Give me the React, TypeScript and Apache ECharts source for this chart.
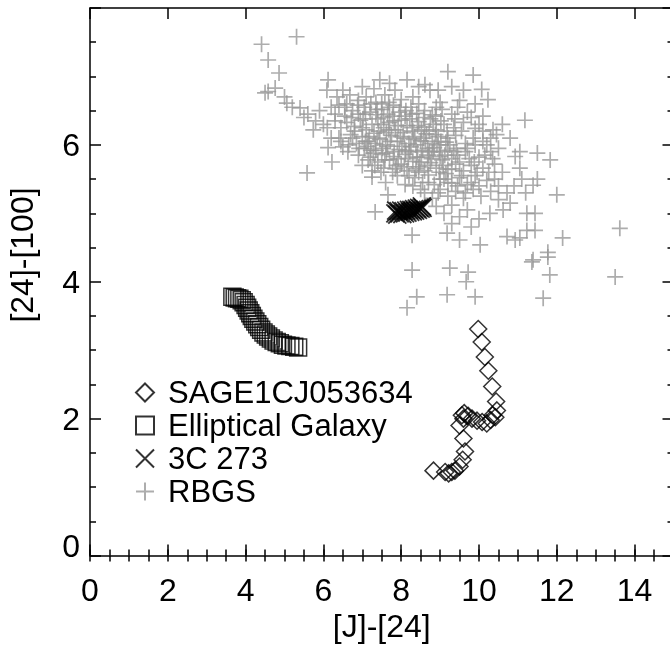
import React, { useEffect, useRef } from "react";
import * as echarts from "echarts";

const FONT = "'Liberation Sans', Arial, Helvetica, sans-serif";

const xTicks = [0, 2, 4, 6, 8, 10, 12, 14];
const yTicks = [0, 2, 4, 6];

const seriesNames = ["SAGE1CJ053634", "Elliptical Galaxy", "3C 273", "RBGS"];

const sageData: number[][] = [
  [8.83, 1.24], [9.13, 1.22], [9.22, 1.2], [9.3, 1.22], [9.38, 1.24], [9.5, 1.3],
  [9.58, 1.4], [9.64, 1.52], [9.6, 1.71], [9.5, 1.9], [9.56, 2.05], [9.62, 2.08],
  [9.6, 2.0], [9.72, 2.04], [9.82, 2.0], [9.95, 1.97], [10.08, 1.95], [10.2, 1.93],
  [10.3, 1.98], [10.35, 2.05], [10.42, 2.02], [10.46, 2.12], [10.44, 2.25],
  [10.34, 2.47], [10.24, 2.7], [10.15, 2.9], [10.07, 3.12], [9.98, 3.31],
];

const ellipticalData: number[][] = [
  [3.66, 3.78], [3.72, 3.77], [3.78, 3.76], [3.84, 3.75], [3.9, 3.73], [3.95, 3.7],
  [4.0, 3.66], [4.04, 3.62], [4.08, 3.58], [4.12, 3.54], [4.16, 3.5], [4.2, 3.46],
  [4.25, 3.42], [4.3, 3.38], [4.35, 3.34], [4.4, 3.3], [4.46, 3.26], [4.52, 3.23],
  [4.58, 3.2], [4.65, 3.17], [4.72, 3.14], [4.8, 3.12], [4.88, 3.1], [4.96, 3.08],
  [5.05, 3.07], [5.15, 3.06], [5.25, 3.05], [5.35, 3.04],
];

const quasarData: number[][] = [
  [7.85, 5.0], [7.87, 5.04], [7.9, 4.98], [7.93, 5.03], [7.96, 5.0], [8.0, 5.04],
  [8.03, 4.99], [8.06, 5.03], [8.1, 5.0], [8.13, 5.04], [8.16, 5.01], [8.2, 5.05],
  [8.23, 5.02], [8.26, 5.05], [8.3, 5.03], [8.33, 5.06], [8.36, 5.04], [8.4, 5.07],
  [8.43, 5.05], [8.46, 5.08], [8.5, 5.07], [8.53, 5.1], [8.55, 5.08],
];

const rbgsData: number[][] = [
  // upper-left outliers
  [4.41, 7.47], [5.31, 7.58], [4.58, 7.24], [4.86, 7.05], [4.5, 6.76], [5.0, 6.7],
  [5.2, 6.55], [5.5, 6.4], [5.8, 6.35], [4.58, 6.78], [4.76, 6.83], [5.06, 6.61],
  [5.4, 6.54], [5.6, 6.45], [5.74, 6.22], [5.58, 5.59],
  // top band
  [6.12, 6.95], [7.45, 6.95], [8.15, 6.95], [9.2, 7.07], [8.61, 6.88], [10.07, 6.81],
  [9.85, 7.02], [6.09, 6.8], [6.68, 6.73], [7.58, 6.73], [7.84, 6.8], [8.74, 6.8],
  [10.23, 6.66], [6.9, 6.65], [7.1, 6.7], [7.35, 6.62], [8.0, 6.66], [8.3, 6.7],
  [9.0, 6.62], [9.5, 6.65],
  // 6.4 - 6.6
  [5.9, 6.5], [6.2, 6.55], [6.4, 6.58], [6.55, 6.42], [6.75, 6.5], [6.9, 6.45],
  [7.05, 6.55], [7.2, 6.48], [7.35, 6.44], [7.5, 6.52], [7.65, 6.45], [7.8, 6.58],
  [7.95, 6.48], [8.1, 6.42], [8.25, 6.55], [8.4, 6.46], [8.6, 6.5], [8.8, 6.44],
  [9.05, 6.52], [9.3, 6.45], [9.7, 6.48], [10.1, 6.42],
  // 6.2 - 6.4
  [6.0, 6.3], [6.3, 6.35], [6.45, 6.25], [6.6, 6.33], [6.8, 6.27], [6.95, 6.36],
  [7.1, 6.22], [7.25, 6.3], [7.4, 6.38], [7.55, 6.25], [7.7, 6.33], [7.85, 6.22],
  [8.0, 6.36], [8.15, 6.28], [8.3, 6.2], [8.45, 6.34], [8.6, 6.26], [8.75, 6.38],
  [8.9, 6.22], [9.1, 6.3], [9.35, 6.25], [9.6, 6.33], [9.9, 6.24], [10.36, 6.22],
  [11.18, 6.36],
  // 6.0 - 6.2
  [6.12, 5.96], [6.2, 6.1], [6.45, 6.05], [6.7, 6.15], [6.85, 6.02], [7.0, 6.12],
  [7.15, 6.05], [7.3, 6.17], [7.45, 6.08], [7.6, 6.0], [7.75, 6.14], [7.9, 6.05],
  [8.05, 6.18], [8.2, 6.02], [8.35, 6.12], [8.5, 6.06], [8.65, 6.16], [8.8, 6.02],
  [8.95, 6.12], [9.15, 6.04], [9.4, 6.14], [9.65, 6.02], [9.85, 6.1], [10.1, 6.05],
  [10.8, 6.1],
  // 5.8 - 6.0
  [6.5, 5.97], [6.63, 5.9], [6.9, 5.85], [7.05, 5.95], [7.2, 5.82], [7.35, 5.92],
  [7.5, 5.86], [7.65, 5.98], [7.8, 5.83], [7.95, 5.93], [8.1, 5.86], [8.25, 5.97],
  [8.4, 5.82], [8.55, 5.92], [8.7, 5.85], [8.85, 5.96], [9.0, 5.83], [9.2, 5.92],
  [9.45, 5.85], [9.7, 5.95], [10.0, 5.82], [10.3, 5.9], [10.93, 5.83], [11.05, 5.9],
  [11.5, 5.88], [11.83, 5.78],
  // 5.6 - 5.8
  [6.22, 5.75], [7.0, 5.7], [7.25, 5.62], [7.4, 5.75], [7.55, 5.66], [7.7, 5.78],
  [7.85, 5.65], [8.0, 5.72], [8.15, 5.62], [8.3, 5.76], [8.45, 5.68], [8.6, 5.62],
  [8.75, 5.74], [8.9, 5.66], [9.05, 5.78], [9.2, 5.64], [9.4, 5.72], [9.6, 5.62],
  [9.8, 5.7], [10.1, 5.66], [10.4, 5.72], [11.05, 5.66],
  // 5.4 - 5.6
  [7.25, 5.53], [7.6, 5.45], [7.9, 5.55], [8.1, 5.42], [8.35, 5.52], [8.55, 5.45],
  [8.7, 5.56], [8.85, 5.42], [9.0, 5.5], [9.15, 5.58], [9.3, 5.44], [9.5, 5.52],
  [9.7, 5.42], [9.9, 5.55], [10.2, 5.48], [10.5, 5.4], [11.39, 5.41], [11.5, 5.5],
  // 5.2 - 5.4
  [7.66, 5.27], [8.6, 5.3], [8.8, 5.22], [9.0, 5.35], [9.2, 5.25], [9.4, 5.32],
  [9.6, 5.22], [9.85, 5.35], [10.05, 5.25], [10.3, 5.32], [10.72, 5.3], [10.5, 5.2],
  // 4.9 - 5.2
  [7.33, 5.02], [8.9, 5.1], [9.1, 5.0], [9.3, 5.12], [9.5, 4.95], [9.7, 5.05],
  [10.0, 4.92], [10.28, 5.0], [10.62, 5.05], [11.23, 5.0], [11.44, 5.0], [12.0, 5.27],
  // 4.5 - 4.9
  [8.28, 4.68], [9.18, 4.71], [9.5, 4.61], [10.03, 4.54], [10.72, 4.66], [10.93, 4.61],
  [11.05, 4.64], [11.23, 4.75], [11.44, 4.75], [12.15, 4.64], [13.62, 4.78], [9.3, 4.85],
  [9.8, 4.8],
  // lower outliers
  [8.28, 4.17], [9.25, 4.2], [9.72, 4.14], [9.67, 4.0], [9.9, 3.78], [9.18, 3.81],
  [8.4, 3.78], [8.15, 3.62], [11.65, 3.76], [11.39, 4.32], [11.77, 4.36], [11.36, 4.29],
  [11.82, 4.1], [13.5, 4.07], [11.77, 4.43],
  // extra core
  [7.02, 6.38], [7.18, 6.12], [7.33, 6.02], [7.48, 6.3], [7.62, 6.18], [7.78, 6.42],
  [7.92, 6.28], [8.08, 6.1], [8.22, 6.38], [8.38, 6.0], [8.52, 6.22], [8.68, 5.95],
  [8.82, 6.3], [8.98, 5.9], [7.12, 5.98], [7.28, 5.88], [7.42, 6.2], [7.58, 5.78],
  [7.72, 6.05], [7.88, 5.7], [8.02, 5.98], [8.18, 5.8], [8.32, 6.08], [8.48, 5.75],
  [8.62, 6.05], [8.78, 5.8], [8.92, 6.0], [9.08, 5.7], [9.25, 6.0], [9.42, 5.95],
  [9.55, 6.2], [9.75, 5.8], [7.5, 6.6], [7.7, 6.55], [8.45, 6.6], [8.9, 6.55],
  [6.6, 6.6], [6.3, 6.45], [6.1, 6.25], [6.4, 6.1], [6.65, 6.0], [6.8, 6.2],
  [7.0, 6.25], [8.2, 5.55], [8.45, 5.6], [9.1, 5.5], [9.3, 5.8], [9.55, 5.55],
  [9.95, 5.6], [10.15, 5.85], [10.5, 5.95], [10.6, 5.6], [10.0, 6.3], [10.3, 6.1],
  [9.8, 6.4], [9.45, 6.55], [10.6, 6.3], [10.9, 5.4], [10.4, 5.5], [11.2, 5.3],
  [10.8, 5.15], [11.1, 5.5],
  // densest core
  [6.55, 6.55], [6.72, 6.4], [6.88, 6.58], [7.08, 6.45], [7.22, 6.6], [7.38, 6.52],
  [7.55, 6.4], [7.68, 6.62], [7.82, 6.35], [7.98, 6.55], [8.12, 6.5], [8.28, 6.45],
  [8.42, 6.28], [8.58, 6.4], [8.72, 6.2], [8.88, 6.42], [9.02, 6.35], [9.18, 6.2],
  [9.38, 6.38], [6.75, 6.1], [6.92, 5.95], [7.08, 6.05], [7.22, 5.92], [7.38, 6.1],
  [7.52, 5.95], [7.68, 6.22], [7.82, 5.9], [7.98, 6.12], [8.12, 5.92], [8.28, 6.25],
  [8.42, 5.9], [8.58, 6.1], [8.72, 5.9], [8.88, 6.15], [9.02, 6.05], [9.2, 6.1],
  [9.35, 5.9], [7.15, 5.78], [7.32, 5.7], [7.48, 5.6], [7.62, 5.88], [7.78, 5.6],
  [7.92, 5.8], [8.08, 5.68], [8.22, 5.9], [8.38, 5.65], [8.52, 5.82], [8.68, 5.7],
  [8.82, 5.9], [8.98, 5.6], [9.12, 5.85], [9.3, 5.65], [9.5, 5.75], [9.65, 5.9],
  [9.88, 5.75], [8.3, 5.4], [8.5, 5.35], [8.7, 5.45], [8.95, 5.3], [9.2, 5.45],
  [9.45, 5.4], [9.65, 5.3], [9.8, 5.45], [10.0, 5.4], [10.25, 5.6], [10.35, 5.8],
  [10.2, 6.0], [10.45, 6.15], [9.9, 6.0], [10.1, 6.2], [6.35, 6.7], [6.5, 6.8],
  [7.0, 6.85], [7.3, 6.82], [7.7, 6.9], [8.45, 6.85], [8.95, 6.8], [9.3, 6.85],
  [9.6, 6.8], [9.9, 6.6],
];

const PLUS = "path://M5,0L5,10M0,5L10,5";
const CROSS = "path://M0,0L10,10M10,0L0,10";

export default function App() {
  const ref = useRef<HTMLDivElement>(null);
  useEffect(() => {
    if (!ref.current) return;
    const chart = echarts.init(ref.current, null, { renderer: "svg" });
    const tickLine = { color: "#000", width: 1.5 };
    const labelStyle = { fontSize: 32, color: "#000", fontFamily: FONT };
    const majorX = (pos: string, labels: boolean) => ({
      type: "value",
      gridIndex: 0,
      position: pos,
      min: 0,
      max: 15,
      interval: 2,
      axisLine: { show: true, onZero: false, lineStyle: tickLine },
      axisTick: { show: true, inside: true, length: 11, lineStyle: tickLine },
      splitLine: { show: false },
      axisLabel: labels
        ? {
            show: true,
            margin: 18,
            ...labelStyle,
            formatter: (v: number) => (xTicks.includes(v) ? String(v) : ""),
          }
        : { show: false },
      ...(labels
        ? {
            name: "[J]-[24]",
            nameLocation: "middle",
            nameGap: 48,
            nameTextStyle: { ...labelStyle },
          }
        : {}),
    });
    const minorX = (pos: string) => ({
      type: "value",
      gridIndex: 1,
      position: pos,
      min: 0,
      max: 15,
      interval: 0.5,
      axisLine: { show: false },
      axisTick: { show: true, inside: true, length: 6, lineStyle: tickLine },
      splitLine: { show: false },
      axisLabel: { show: false },
    });
    const yAx = (pos: string, labels: boolean, gridIndex: number) => ({
      type: "value",
      gridIndex,
      position: pos,
      min: 0,
      max: 8,
      interval: 2,
      axisLine: { show: gridIndex === 0, onZero: false, lineStyle: tickLine },
      axisTick: { show: gridIndex === 0, inside: true, length: 11, lineStyle: tickLine },
      minorTick: { show: gridIndex === 0, splitNumber: 4, length: 6, lineStyle: tickLine },
      splitLine: { show: false },
      axisLabel: labels
        ? {
            show: true,
            margin: 10,
            ...labelStyle,
            formatter: (v: number) =>
              v === 0 ? "{z|0}" : yTicks.includes(v) ? String(v) : "",
            rich: { z: { ...labelStyle, padding: [0, 0, 20, 0] } },
          }
        : { show: false },
    });
    const grid = {
      left: 90,
      top: 8,
      width: 583.5,
      height: 547.5,
      containLabel: false,
      outerBoundsMode: "none",
    };
    chart.setOption({
      animation: false,
      grid: [grid, grid],
      xAxis: [majorX("bottom", true), majorX("top", false), minorX("bottom"), minorX("top")],
      yAxis: [yAx("left", true, 0), yAx("right", false, 0), yAx("left", false, 1), yAx("right", false, 1)],
      legend: {
        orient: "vertical",
        left: 135,
        top: 377,
        padding: 0,
        itemWidth: 18,
        itemHeight: 18,
        itemGap: 2,
        data: seriesNames,
        selectedMode: false,
        textStyle: { fontSize: 31, color: "#000", fontFamily: FONT, lineHeight: 30, padding: [0, 0, 0, 9] },
      },
      graphic: [
        {
          type: "text",
          x: 22,
          y: 255,
          rotation: Math.PI / 2,
          style: {
            text: "[24]-[100]",
            font: `32px ${FONT}`,
            fill: "#000",
            textAlign: "center",
            textVerticalAlign: "middle",
          },
        },
      ],
      series: [
        {
          name: "RBGS",
          type: "scatter",
          data: rbgsData,
          symbol: PLUS,
          symbolSize: 16,
          silent: true,
          itemStyle: { color: "transparent", borderColor: "#999999", borderWidth: 1.7 },
        },
        {
          name: "3C 273",
          type: "scatter",
          data: quasarData,
          symbol: CROSS,
          symbolSize: 18,
          silent: true,
          itemStyle: { color: "transparent", borderColor: "#000", borderWidth: 1.8 },
        },
        {
          name: "Elliptical Galaxy",
          type: "scatter",
          data: ellipticalData,
          symbol: "rect",
          symbolSize: 17,
          silent: true,
          itemStyle: { color: "transparent", borderColor: "#000", borderWidth: 1.5 },
        },
        {
          name: "SAGE1CJ053634",
          type: "scatter",
          data: sageData,
          symbol: "diamond",
          symbolSize: 17,
          silent: true,
          itemStyle: { color: "transparent", borderColor: "#000", borderWidth: 1.5 },
        },
      ],
    });
    return () => chart.dispose();
  }, []);
  return (
    <div
      ref={ref}
      style={{ position: "fixed", left: 0, top: 0, width: 670, height: 648 }}
    />
  );
}
